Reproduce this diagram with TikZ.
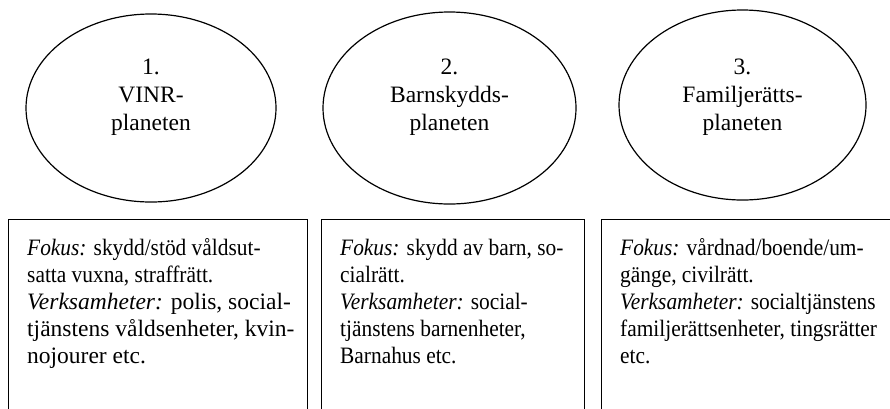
\documentclass[tikz,border=0pt]{standalone}
\usepackage{fontspec}
\setmainfont{Liberation Serif}
\newfontfamily\boxfont[FakeStretch=0.91]{Liberation Serif}
\newfontfamily\wideboxfont{Liberation Serif}
\newcommand{\lbl}[1]{{\itshape #1}}
\usetikzlibrary{shapes.geometric}
\begin{document}
\begin{tikzpicture}[x=1pt,y=-1pt,
  planet/.style={ellipse, draw, line width=1.2pt, inner sep=0pt},
  box/.style={draw, line width=1.1pt, inner sep=0pt, anchor=north west, minimum height=220pt},
  ptext/.style={align=center, anchor=base, inner sep=0pt, font=\fontsize{23.5}{28}\selectfont},
  btext/.style={align=left, anchor=base west, inner sep=0pt, font=\boxfont\fontsize{23.5}{27}\selectfont}]
\useasboundingbox (0,0) rectangle (890,408);
\node[planet, minimum width=250pt, minimum height=188pt] (e1) at (151,108) {};
\node[planet, minimum width=253pt, minimum height=192pt] (e2) at (449.5,108) {};
\node[planet, minimum width=247pt, minimum height=190pt] (e3) at (742.5,105) {};
\node[ptext] (t1) at (151,130) {1.\\VINR-\\planeten};
\node[ptext] (t2) at (449.5,130) {2.\\Barnskydds-\\planeten};
\node[ptext] (t3) at (742.5,130) {3.\\Familjerätts-\\planeten};
\node[box, minimum width=298.7pt] (b1) at (8,219) {};
\node[box, minimum width=263.3pt] (b2) at (320.7,219) {};
\node[box, minimum width=300pt] (b3) at (600.7,219) {};
\node[btext] (x1) at (27,363) {\lbl{Fokus:} skydd/stöd våldsut-\\satta vuxna, straffrätt.\\{\wideboxfont\lbl{Verksamheter:} polis, social-}\\{\wideboxfont tjänstens våldsenheter, kvin-}\\{\wideboxfont nojourer etc.}};
\node[btext] (x2) at (340,363) {\lbl{Fokus:} skydd av barn, so-\\cialrätt.\\\lbl{Verksamheter:} social-\\tjänstens barnenheter,\\Barnahus etc.};
\node[btext] (x3) at (620,363) {\lbl{Fokus:} vårdnad/boende/um-\\gänge, civilrätt.\\\lbl{Verksamheter:} socialtjänstens\\familjerättsenheter, tingsrätter\\etc.};
\end{tikzpicture}
\end{document}
